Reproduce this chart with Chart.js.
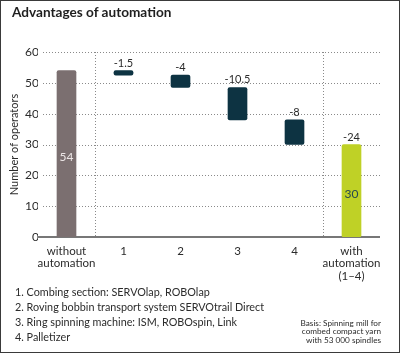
<!DOCTYPE html>
<html>
<head>
<meta charset="utf-8">
<script src="https://cdn.jsdelivr.net/npm/chart.js@4.4.1/dist/chart.umd.min.js"></script>
<style>
    html, body { margin: 0; padding: 0; background: #fff; }
    #frame {
        position: relative;
        width: 398px;
        height: 351px;
        border: 1px solid #3a3a3a;
        overflow: hidden;
        font-family: Lato, 'Open Sans', sans-serif;
        color: #2b2b2b;
    }
    #chartBox { position: absolute; left: -1px; top: -1px; width: 400px; height: 353px; }
    #title { position: absolute; left: 11px; top: 3px; font-size: 13.6px; font-weight: bold; color: #1f1f1f; }
    #notes { position: absolute; left: 14px; top: 283px; font-size: 10.8px; line-height: 15px; color: #2b2b2b; }
    #basis { position: absolute; right: 18px; top: 318px; font-size: 8.2px; line-height: 8.4px; text-align: right; color: #2b2b2b; }
</style>
</head>
<body>
<div id="frame">
    <div id="chartBox"><canvas id="chart"></canvas></div>
    <div id="title">Advantages of automation</div>
    <div id="notes"></div>
    <div id="basis">Basis: Spinning mill for<br>combed compact yarn<br>with 53 000 spindles</div>
</div>
<script>
const categories = [['without', 'automation'], '1', '2', '3', '4', ['with', 'automation', '(1–4)']];
const barStart = [0, 52.5, 48.5, 38, 30, 0];
const barEnd = [54, 54, 52.5, 48.5, 38, 30];
const changeLabels = ['', '-1.5', '-4', '-10.5', '-8', '-24'];
const totalLabels = ['54', '', '', '', '', '30'];
const yTicks = [0, 10, 20, 30, 40, 50, 60];
const footnotes = [
    '1. Combing section: SERVOlap, ROBOlap',
    '2. Roving bobbin transport system SERVOtrail Direct',
    '3. Ring spinning machine: ISM, ROBOspin, Link',
    '4. Palletizer'
];

const barColors = ['#7b6f70', '#0d3342', '#0d3342', '#0d3342', '#0d3342', '#bfd126'];
const fontFamily = "Lato, 'Open Sans', sans-serif";

window.addEventListener('load', () => {
    document.getElementById('notes').innerHTML = footnotes.join('<br>');
    buildAutomationChart();
});

// dotted horizontal grid, solid baseline and the two group separators
const gridPlugin = {
    id: 'gridLines',
    beforeDatasetsDraw(chart) {
        const { ctx, chartArea, scales } = chart;
        const x = scales.x;
        const y = scales.y;
        ctx.save();
        ctx.strokeStyle = '#8a8a8a';
        ctx.lineWidth = 1;
        ctx.setLineDash([1, 2]);
        yTicks.forEach(v => {
            if (v === 0) return;
            const py = Math.round(y.getPixelForValue(v)) + 0.5;
            ctx.beginPath();
            ctx.moveTo(chartArea.left + 5, py);
            ctx.lineTo(chartArea.right, py);
            ctx.stroke();
        });
        [0, 4].forEach(i => {
            const px = Math.round((x.getPixelForValue(i) + x.getPixelForValue(i + 1)) / 2) + 0.5;
            ctx.beginPath();
            ctx.moveTo(px, chartArea.top);
            ctx.lineTo(px, chartArea.bottom);
            ctx.stroke();
        });
        ctx.setLineDash([]);
        ctx.strokeStyle = '#4a4a4a';
        ctx.lineWidth = 1.5;
        const by = y.getPixelForValue(0);
        ctx.beginPath();
        ctx.moveTo(chartArea.left, by);
        ctx.lineTo(chartArea.right, by);
        ctx.stroke();
        ctx.restore();
    }
};

// value labels above and inside bars
const labelPlugin = {
    id: 'barLabels',
    afterDatasetsDraw(chart) {
        const { ctx } = chart;
        const meta = chart.getDatasetMeta(0);
        ctx.save();
        ctx.textAlign = 'center';
        meta.data.forEach((bar, i) => {
            const top = Math.min(bar.y, bar.base);
            const bottom = Math.max(bar.y, bar.base);
            if (changeLabels[i]) {
                ctx.font = '11px ' + fontFamily;
                ctx.fillStyle = '#2b2b2b';
                ctx.textBaseline = 'alphabetic';
                ctx.fillText(changeLabels[i], bar.x, top - 4);
            }
            if (totalLabels[i]) {
                ctx.font = '12px ' + fontFamily;
                ctx.fillStyle = i === 0 ? '#ece6e6' : '#28494f';
                ctx.textBaseline = 'middle';
                ctx.fillText(totalLabels[i], bar.x, (top + bottom) / 2 + 3);
            }
        });
        ctx.restore();
    }
};

function buildAutomationChart() {
    const chartCtx = document.getElementById('chart').getContext('2d');

    new Chart(chartCtx, {
        type: 'bar',
        data: {
            labels: categories,
            datasets: [{
                data: barStart.map((s, i) => [s, barEnd[i]]),
                backgroundColor: barColors,
                barThickness: 19,
                borderRadius: 2,
                borderSkipped: false
            }]
        },
        options: {
            animation: false,
            responsive: true,
            maintainAspectRatio: false,
            layout: {
                padding: { top: 52, left: 0, right: 20, bottom: 66 }
            },
            plugins: {
                legend: { display: false },
                tooltip: { enabled: false }
            },
            scales: {
                x: {
                    grid: { display: false, drawTicks: false },
                    border: { display: false },
                    ticks: {
                        color: '#2b2b2b',
                        padding: 8,
                        autoSkip: false,
                        maxRotation: 0,
                        minRotation: 0,
                        font: { family: fontFamily, size: 11.5, lineHeight: 1.08 }
                    },
                    afterFit: scale => { scale.height = 50; }
                },
                y: {
                    min: 0,
                    max: 60,
                    afterBuildTicks: scale => { scale.ticks = yTicks.map(v => ({ value: v })); },
                    grid: { display: false, drawTicks: false },
                    border: { display: false },
                    ticks: {
                        color: '#2b2b2b',
                        padding: -1,
                        font: { family: fontFamily, size: 12 }
                    },
                    title: {
                        display: true,
                        text: 'Number of operators',
                        color: '#2b2b2b',
                        padding: { top: 8, bottom: 0 },
                        font: { family: fontFamily, size: 11 }
                    },
                    afterFit: scale => { scale.width = 38; }
                }
            }
        },
        plugins: [gridPlugin, labelPlugin]
    });
}
</script>
</body>
</html>
